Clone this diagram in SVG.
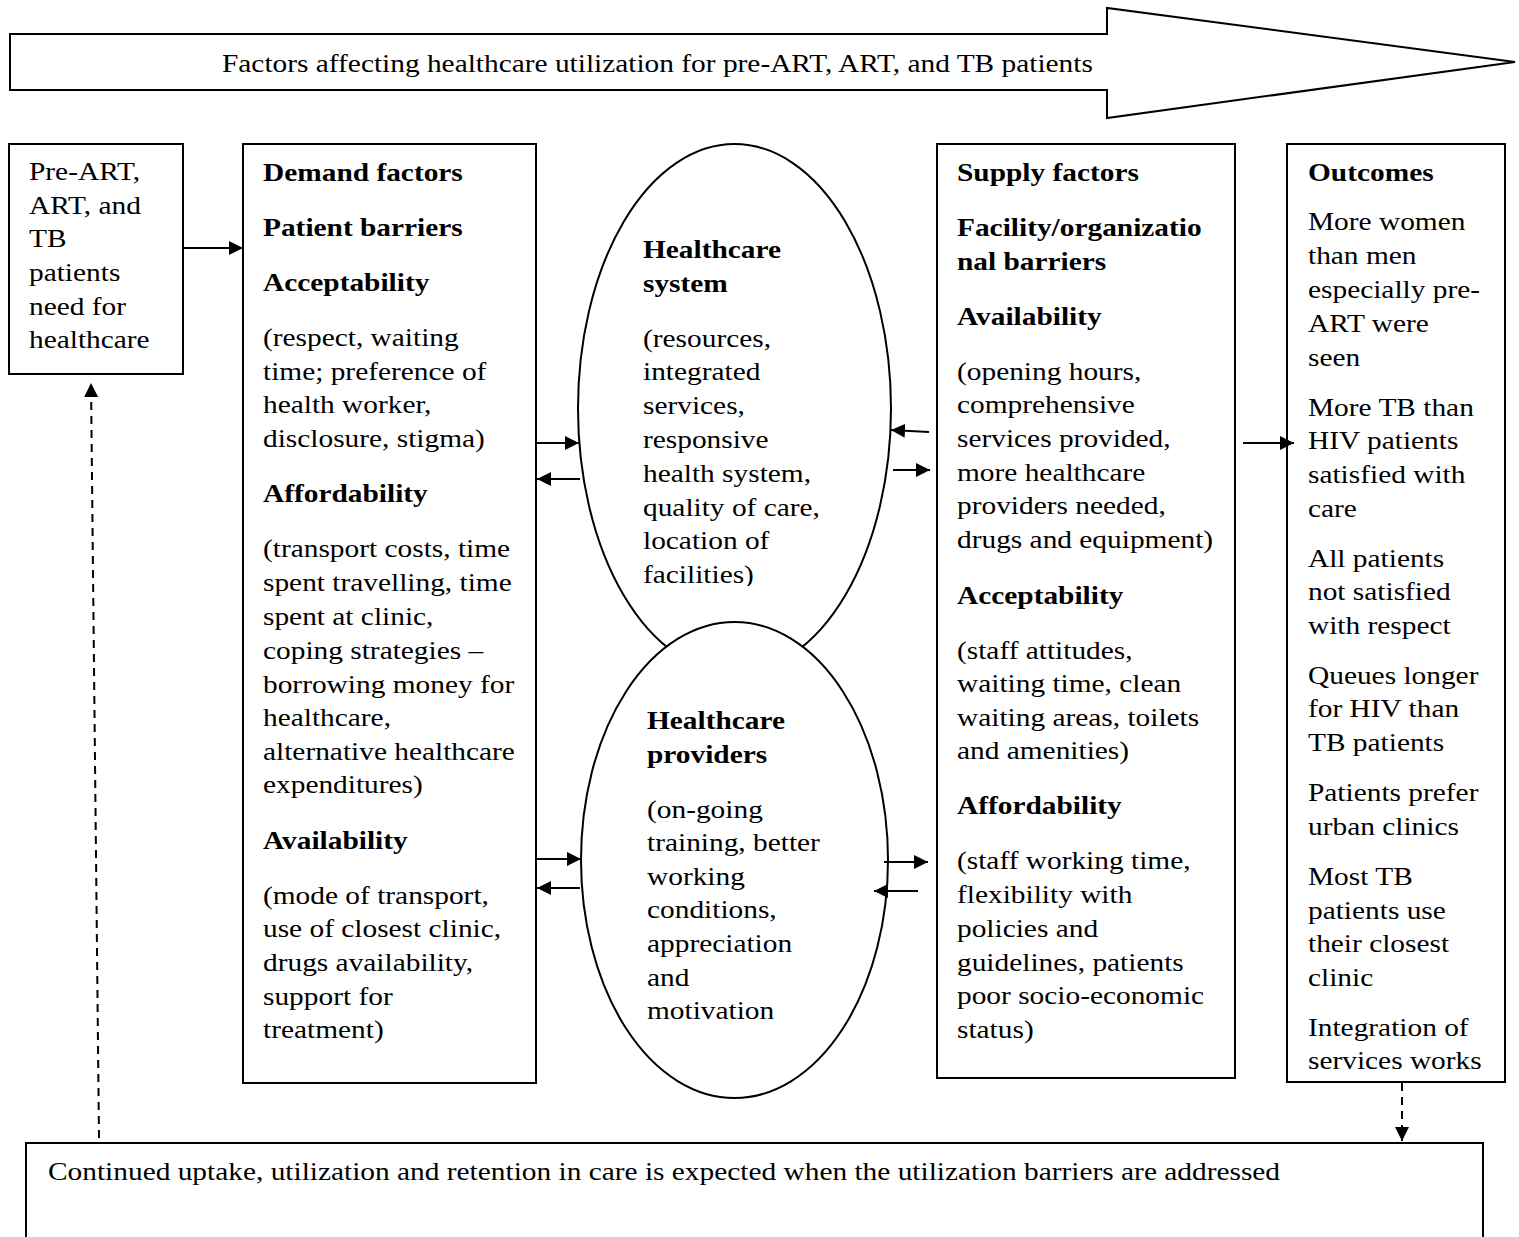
<svg xmlns="http://www.w3.org/2000/svg" width="1519" height="1237" viewBox="0 0 1519 1237">
  <style>
    text { font-family: "Liberation Serif", "Times New Roman", serif; font-size: 25px; fill: #000; }
    .b { font-weight: bold; }
    .box { fill: #fff; stroke: #000; stroke-width: 2; }
    .line { stroke: #000; stroke-width: 2; fill: none; }
    .dash { stroke: #000; stroke-width: 2; fill: none; stroke-dasharray: 8 6; }
  </style>
  <defs>
    <marker id="ah" viewBox="0 0 10 10" refX="10" refY="5" markerWidth="7" markerHeight="7" markerUnits="strokeWidth" orient="auto">
      <path d="M0,0 L10,5 L0,10 z" fill="#000"/>
    </marker>
    <clipPath id="clipSys"><rect x="600" y="150" width="280" height="436"/></clipPath>
    <clipPath id="clipProv"><rect x="600" y="690" width="280" height="330"/></clipPath>
    <clipPath id="clipOut"><rect x="1288" y="150" width="216" height="931"/></clipPath>
  </defs>

  <rect width="1519" height="1237" fill="#fff"/>

  <!-- banner arrow -->
  <g id="banner">
    <path d="M10,34 L1107,34 L1107,8 L1515,62 L1107,118 L1107,90 L10,90 Z" class="box"/>
    <g transform="translate(222 0) scale(1.175 1)">
      <text x="0" y="72">Factors affecting healthcare utilization for pre-ART, ART, and TB patients</text>
    </g>
  </g>

  <!-- need for healthcare -->
  <g id="need">
    <rect x="9" y="144" width="174" height="230" class="box"/>
    <g transform="translate(29 0) scale(1.175 1)">
      <text x="0" y="180">Pre-ART,</text>
      <text x="0" y="214">ART, and</text>
      <text x="0" y="247">TB</text>
      <text x="0" y="281">patients</text>
      <text x="0" y="315">need for</text>
      <text x="0" y="348">healthcare</text>
    </g>
  </g>

  <!-- demand factors -->
  <g id="demand">
    <rect x="243" y="144" width="293" height="939" class="box"/>
    <g transform="translate(263 0) scale(1.175 1)">
      <text x="0" y="181" class="b">Demand factors</text>
      <text x="0" y="236" class="b">Patient barriers</text>
      <text x="0" y="291" class="b">Acceptability</text>
      <text x="0" y="346">(respect, waiting</text>
      <text x="0" y="380">time; preference of</text>
      <text x="0" y="413">health worker,</text>
      <text x="0" y="447">disclosure, stigma)</text>
      <text x="0" y="502" class="b">Affordability</text>
      <text x="0" y="557">(transport costs, time</text>
      <text x="0" y="591">spent travelling, time</text>
      <text x="0" y="625">spent at clinic,</text>
      <text x="0" y="659">coping strategies –</text>
      <text x="0" y="693">borrowing money for</text>
      <text x="0" y="726">healthcare,</text>
      <text x="0" y="760">alternative healthcare</text>
      <text x="0" y="793">expenditures)</text>
      <text x="0" y="849" class="b">Availability</text>
      <text x="0" y="904">(mode of transport,</text>
      <text x="0" y="937">use of closest clinic,</text>
      <text x="0" y="971">drugs availability,</text>
      <text x="0" y="1005">support for</text>
      <text x="0" y="1038">treatment)</text>
    </g>
  </g>

  <!-- healthcare system -->
  <g id="system">
    <ellipse cx="734.5" cy="408.5" rx="156.5" ry="264.5" class="box"/>
    <g clip-path="url(#clipSys)">
      <g transform="translate(643 0) scale(1.175 1)">
        <text x="0" y="258" class="b">Healthcare</text>
        <text x="0" y="292" class="b">system</text>
        <text x="0" y="347">(resources,</text>
        <text x="0" y="380">integrated</text>
        <text x="0" y="414">services,</text>
        <text x="0" y="448">responsive</text>
        <text x="0" y="482">health system,</text>
        <text x="0" y="516">quality of care,</text>
        <text x="0" y="549">location of</text>
        <text x="0" y="583">facilities)</text>
      </g>
    </g>
  </g>

  <!-- healthcare providers -->
  <g id="providers">
    <ellipse cx="734.5" cy="860" rx="153.5" ry="238" class="box"/>
    <g clip-path="url(#clipProv)">
      <g transform="translate(647 0) scale(1.175 1)">
        <text x="0" y="729" class="b">Healthcare</text>
        <text x="0" y="763" class="b">providers</text>
        <text x="0" y="818">(on-going</text>
        <text x="0" y="851">training, better</text>
        <text x="0" y="885">working</text>
        <text x="0" y="918">conditions,</text>
        <text x="0" y="952">appreciation</text>
        <text x="0" y="986">and</text>
        <text x="0" y="1019">motivation</text>
      </g>
    </g>
  </g>

  <!-- supply factors -->
  <g id="supply">
    <rect x="937" y="144" width="298" height="934" class="box"/>
    <g transform="translate(957 0) scale(1.175 1)">
      <text x="0" y="181" class="b">Supply factors</text>
      <text x="0" y="236" class="b">Facility/organizatio</text>
      <text x="0" y="270" class="b">nal barriers</text>
      <text x="0" y="325" class="b">Availability</text>
      <text x="0" y="380">(opening hours,</text>
      <text x="0" y="413">comprehensive</text>
      <text x="0" y="447">services provided,</text>
      <text x="0" y="481">more healthcare</text>
      <text x="0" y="514">providers needed,</text>
      <text x="0" y="548">drugs and equipment)</text>
      <text x="0" y="604" class="b">Acceptability</text>
      <text x="0" y="659">(staff attitudes,</text>
      <text x="0" y="692">waiting time, clean</text>
      <text x="0" y="726">waiting areas, toilets</text>
      <text x="0" y="759">and amenities)</text>
      <text x="0" y="814" class="b">Affordability</text>
      <text x="0" y="869">(staff working time,</text>
      <text x="0" y="903">flexibility with</text>
      <text x="0" y="937">policies and</text>
      <text x="0" y="971">guidelines, patients</text>
      <text x="0" y="1004">poor socio-economic</text>
      <text x="0" y="1038">status)</text>
    </g>
  </g>

  <!-- outcomes -->
  <g id="outcomes">
    <rect x="1287" y="144" width="218" height="938" class="box"/>
    <g clip-path="url(#clipOut)">
      <g transform="translate(1308 0) scale(1.175 1)">
        <text x="0" y="181" class="b">Outcomes</text>
        <text x="0" y="230">More women</text>
        <text x="0" y="264">than men</text>
        <text x="0" y="298">especially pre-</text>
        <text x="0" y="332">ART were</text>
        <text x="0" y="366">seen</text>
        <text x="0" y="416">More TB than</text>
        <text x="0" y="449">HIV patients</text>
        <text x="0" y="483">satisfied with</text>
        <text x="0" y="517">care</text>
        <text x="0" y="567">All patients</text>
        <text x="0" y="600">not satisfied</text>
        <text x="0" y="634">with respect</text>
        <text x="0" y="684">Queues longer</text>
        <text x="0" y="717">for HIV than</text>
        <text x="0" y="751">TB patients</text>
        <text x="0" y="801">Patients prefer</text>
        <text x="0" y="835">urban clinics</text>
        <text x="0" y="885">Most TB</text>
        <text x="0" y="919">patients use</text>
        <text x="0" y="952">their closest</text>
        <text x="0" y="986">clinic</text>
        <text x="0" y="1036">Integration of</text>
        <text x="0" y="1069">services works</text>
      </g>
    </g>
  </g>

  <!-- continued uptake -->
  <g id="uptake">
    <path d="M26,1240 L26,1143 L1483,1143 L1483,1240" class="box"/>
    <g transform="translate(48 0) scale(1.175 1)">
      <text x="0" y="1180">Continued uptake, utilization and retention in care is expected when the utilization barriers are addressed</text>
    </g>
  </g>

  <!-- connectors -->
  <g id="connectors">
    <line x1="183" y1="248" x2="243" y2="248" class="line" marker-end="url(#ah)"/>
    <line x1="536" y1="443" x2="579" y2="443" class="line" marker-end="url(#ah)"/>
    <line x1="580" y1="479" x2="537" y2="479" class="line" marker-end="url(#ah)"/>
    <line x1="536" y1="859" x2="581" y2="859" class="line" marker-end="url(#ah)"/>
    <line x1="580" y1="888" x2="537" y2="888" class="line" marker-end="url(#ah)"/>
    <line x1="929" y1="432" x2="891" y2="430" class="line" marker-end="url(#ah)"/>
    <line x1="893" y1="470" x2="930" y2="470" class="line" marker-end="url(#ah)"/>
    <line x1="884" y1="862" x2="928" y2="862" class="line" marker-end="url(#ah)"/>
    <line x1="918" y1="891" x2="874" y2="891" class="line" marker-end="url(#ah)"/>
    <line x1="1243" y1="443" x2="1294" y2="443" class="line" marker-end="url(#ah)"/>
    <line x1="99" y1="1138" x2="91" y2="383" class="dash" marker-end="url(#ah)"/>
    <line x1="1402" y1="1083" x2="1402" y2="1141" class="dash" marker-end="url(#ah)"/>
  </g>
</svg>
